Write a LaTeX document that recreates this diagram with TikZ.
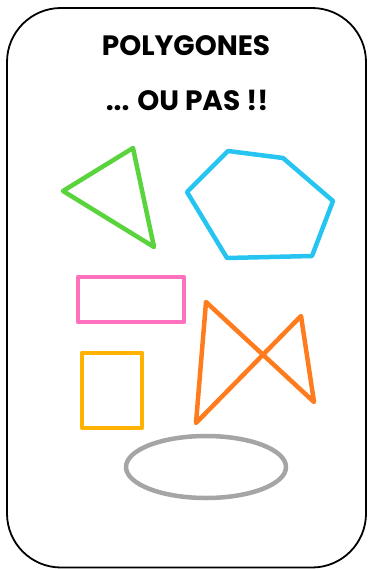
\documentclass[tikz,border=0pt]{standalone}
\usepackage{fontspec}
\setmainfont{Poppins}
\definecolor{vert}{RGB}{90,212,60}
\definecolor{bleu}{RGB}{38,196,240}
\definecolor{rose}{RGB}{255,112,190}
\definecolor{jaune}{RGB}{255,178,0}
\definecolor{orange}{RGB}{255,124,30}
\definecolor{gris}{RGB}{165,165,165}
\tikzset{
    forme/.style={line width=4.5pt, line join=round, line cap=round},
    titre/.style={font=\fontsize{28}{30}\selectfont\bfseries, inner sep=0pt}
}
\begin{document}
\begin{tikzpicture}[x=1pt, y=-1pt]
        \useasboundingbox (0, 0) rectangle (368, 569);

        % Cadre
        \draw[line width=1.8pt, rounded corners=54pt] (7, 8) rectangle (366, 567.5);

        % Titre
        \node[titre] (t1) at (186, 46) {POLYGONES};
        \node[titre] (t2) at (187, 100) {... OU PAS !!};

        % Formes
        \draw[forme, vert] (63, 191) -- (133, 148) -- (154, 247) -- cycle; % triangle
        \draw[forme, bleu] (187, 192) -- (228, 151) -- (283, 158) -- (333, 201) -- (312, 256) -- (227, 258) -- cycle; % hexagone
        \draw[forme, rose] (78, 277) rectangle (184, 322); % rectangle
        \draw[forme, jaune] (82, 353) rectangle (142, 428); % carre
        \draw[forme, orange] (206, 302) -- (314, 402) -- (301, 316) -- (196, 423) -- cycle; % croise
        \draw[forme, gris] (206, 467) ellipse (80 and 31); % ellipse

    \end{tikzpicture}
\end{document}
